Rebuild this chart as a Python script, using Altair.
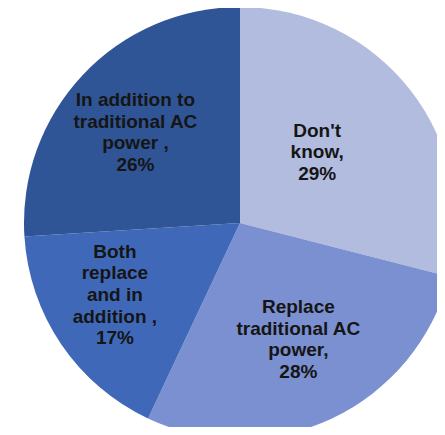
import altair as alt
import pandas as pd

categories = [
    "Don't know",
    "Replace traditional AC power",
    "Both replace and in addition",
    "In addition to traditional AC power",
]
values = [29, 28, 17, 26]
label_lines = [
    ["Don't", "know,", "29%"],
    ["Replace", "traditional AC", "power,", "28%"],
    ["Both", "replace", "and in", "addition ,", "17%"],
    ["In addition to", "traditional AC", "power ,", "26%"],
]
colors = ["#b2bcdf", "#7a90d0", "#3f69b8", "#2f5597"]

# label placement (radius from centre, fine offsets)
label_radius = [104, 130, 144, 138]
label_dx = [-5, 3, -6, -4]
label_dy_fine = [-7, -1, -9, 4]
LINE_H = 21.7

df = pd.DataFrame({
    "cat": categories,
    "value": values,
    "idx": list(range(len(categories))),
    "label": ["\n".join(l) for l in label_lines],
})

CX, CY = 232, 215

base = alt.Chart(df).encode(
    theta=alt.Theta("value:Q", stack=True),
    order=alt.Order("idx:Q"),
)

pie = base.mark_arc(outerRadius=216, x=CX, y=CY).encode(
    color=alt.Color("cat:N", scale=alt.Scale(domain=categories, range=colors), legend=None)
)

layers = [pie]
for i, r in enumerate(label_radius):
    n = len(label_lines[i])
    layers.append(
        base.mark_text(
            radius=r, x=CX, y=CY,
            dx=label_dx[i], dy=label_dy_fine[i] - (n - 1) / 2 * LINE_H,
            font="Liberation Sans", fontWeight="bold", fontSize=19,
            lineBreak="\n", lineHeight=LINE_H, color="#151515",
            align="center", baseline="middle",
        ).encode(text=alt.condition(f"datum.idx == {i}", "label:N", alt.value("")))
    )

chart = alt.layer(*layers).properties(
    width=429, height=419,
    autosize=alt.AutoSizeParams(type="none"),
    padding=0,
    background="white",
).configure_view(stroke=None)

chart.save("out.html", embed_options={"renderer": "svg", "actions": False})
